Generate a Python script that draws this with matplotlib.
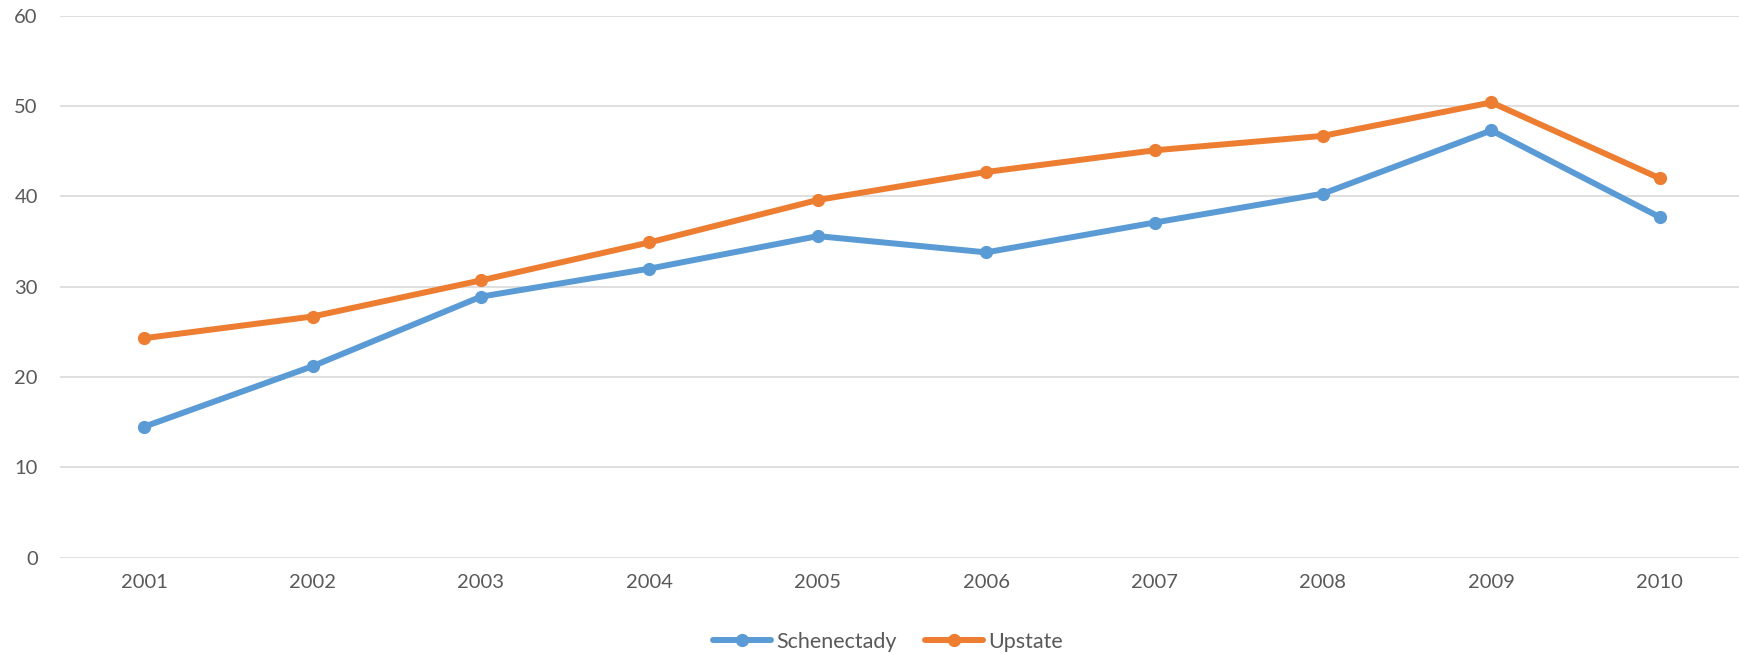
import numpy as np
import matplotlib
matplotlib.use("Agg")
from matplotlib import pyplot as plt

years = ["2001", "2002", "2003", "2004", "2005", "2006", "2007", "2008", "2009", "2010"]
schenectady = [14.5, 21.2, 28.9, 32.0, 35.6, 33.8, 37.1, 40.3, 47.3, 37.7]
upstate = [24.3, 26.7, 30.7, 34.9, 39.6, 42.7, 45.1, 46.7, 50.4, 42.0]
yTicks = [0, 10, 20, 30, 40, 50, 60]

blue = "#5B9BD5"
orange = "#ED7D31"
textGrey = "#595959"

plt.rcParams['font.family'] = ['Lato', 'DejaVu Sans']

fig = plt.figure(figsize=(17.39, 6.55), dpi=100)
ax = fig.add_axes([60 / 1739, 1 - 557.7 / 655, 1684 / 1739, (557.7 - 15.7) / 655])

xVals = np.arange(len(years))
ax.plot(xVals, schenectady, color=blue, linewidth=4.3, marker="o", markersize=8.5,
        solid_capstyle="round", label="Schenectady")
ax.plot(xVals, upstate, color=orange, linewidth=4.3, marker="o", markersize=8.5,
        solid_capstyle="round", label="Upstate")

ax.set_xlim(-0.5, len(years) - 0.5)
ax.set_ylim(0, 60)
ax.set_xticks(xVals)
ax.set_xticklabels(years)
ax.set_yticks(yTicks)
ax.yaxis.grid(True, color="#D9D9D9", linewidth=1.2)
ax.set_axisbelow(True)
for s in ax.spines.values():
    s.set_visible(False)
ax.tick_params(axis="both", length=0, labelsize=14.5, colors=textGrey)
ax.tick_params(axis="y", pad=16)
ax.tick_params(axis="x", pad=12)

fig.legend(loc="center", bbox_to_anchor=(888 / 1739, 1 - 642 / 655), ncol=2, frameon=False,
           fontsize=15.5, labelcolor=textGrey, handlelength=2.7, handletextpad=0.25,
           columnspacing=1.3)

fig.savefig("out.png", dpi=100)
